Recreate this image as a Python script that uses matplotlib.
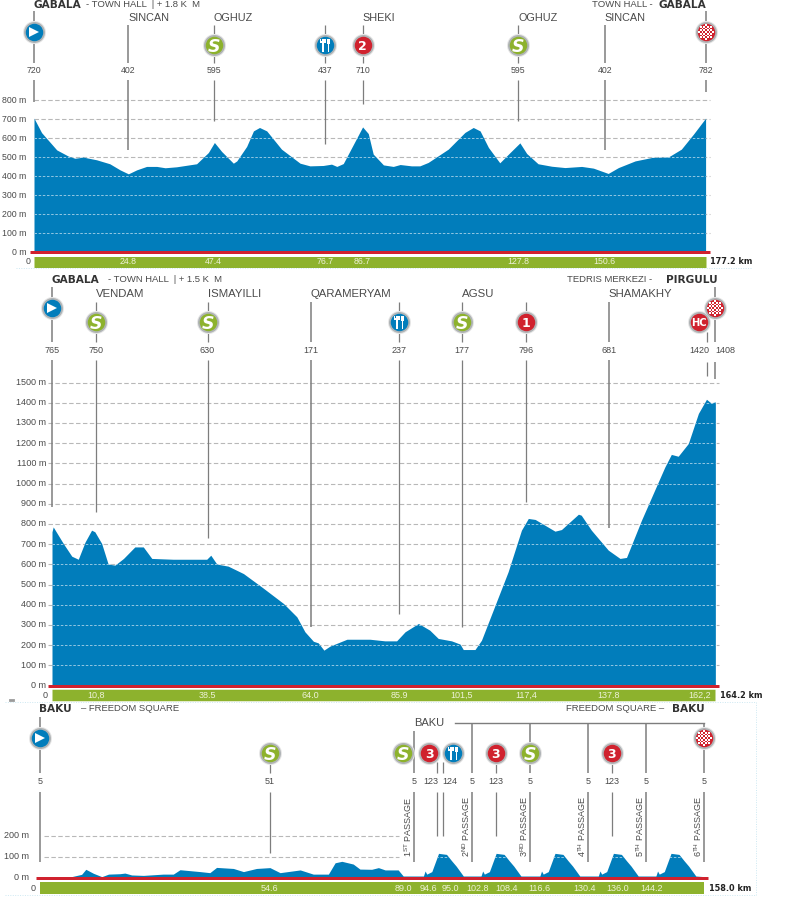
import numpy as np
import matplotlib
matplotlib.use('Agg')
import matplotlib.pyplot as plt
from matplotlib.path import Path
from matplotlib.lines import Line2D
from matplotlib.transforms import Affine2D, blended_transform_factory

plt.rcParams['font.family'] = ['Liberation Sans', 'DejaVu Sans']
plt.rcParams['mathtext.fontset'] = 'custom'
plt.rcParams['mathtext.rm'] = 'Liberation Sans'
plt.rcParams['mathtext.default'] = 'rm'

# stage 1 profile
km_1 = [0, 2.0, 6.0, 9.1, 10.8, 13, 16.5, 20, 22.7, 24.9, 27.1, 29.7, 32.4, 34.6, 37.6, 42.9, 46, 47.6, 49.5,
        52.6, 53.5, 56.1, 57.9, 59.5, 61.4, 65.3, 70.2, 72.8, 76.3, 78.5, 79.9, 81.6, 84.3, 86.7, 88.2, 89.5,
        92.2, 94.8, 96.6, 99.6, 101.8, 104, 109.3, 113.7, 115.9, 117.7, 119.9, 122.9, 125.6, 128.2, 130, 133,
        136.6, 140.1, 144.5, 147.6, 151.5, 154.2, 158.6, 163, 167.4, 170.8, 174, 177.2]
alt_1 = [707, 631, 540, 507, 496, 502, 488, 467, 435, 414, 435, 453, 453, 446, 451, 467, 526, 579, 532,
         470, 482, 558, 640, 658, 640, 544, 470, 456, 458, 465, 453, 468, 570, 661, 626, 518,
         461, 453, 463, 456, 456, 474, 544, 632, 658, 640, 553, 472, 526, 577, 521, 467,
         454, 447, 453, 444, 416, 447, 482, 500, 503, 544, 623, 707]
point_km_1 = [0, 24.8, 47.4, 76.7, 86.7, 127.8, 150.6, 177.2]
point_alt_1 = ['720', '402', '595', '437', '710', '595', '402', '782']
point_name_1 = ['', 'SINCAN', 'OGHUZ', '', 'SHEKI', 'OGHUZ', 'SINCAN', '']
point_icon_1 = ['start', '', 'S', 'food', '2', 'S', '', 'finish']
ticks_1 = ['24.8', '47.4', '76.7', '86.7', '127.8', '150.6']
tick_km_1 = [24.8, 47.4, 76.7, 86.7, 127.8, 150.6]
grid_1 = [100, 200, 300, 400, 500, 600, 700, 800]

# stage 2 profile
km_2 = [0, 0.3, 2.8, 4.9, 6.5, 8.2, 9.8, 10.6, 12.3, 13.9, 15.6, 17.7, 20.5, 22.6, 24.7, 30, 38.3, 39.3, 40.8,
        43.6, 47.4, 51.9, 57.3, 60.6, 62.6, 64.7, 65.9, 67.3, 68.8, 73, 78.7, 82.4, 85.3, 87.4, 90.7, 93.5,
        95.6, 98.9, 101, 101.8, 104.7, 106.3, 112.9, 116.2, 117.9, 119.6, 124.5, 126.1, 130.3, 131, 133.5,
        137.7, 140.6, 142.2, 145.9, 151.7, 153.3, 155, 157.5, 160, 162, 163.1, 164.2]
alt_2 = [761, 785, 703, 640, 625, 711, 769, 761, 703, 601, 596, 629, 686, 686, 629, 625, 625, 645, 601,
         591, 554, 488, 406, 340, 266, 219, 211, 175, 195, 229, 229, 221, 221, 266, 307, 274,
         233, 221, 205, 178, 178, 224, 563, 769, 827, 822, 764, 772, 848, 843, 769,
         670, 629, 634, 818, 1082, 1144, 1135, 1198, 1347, 1417, 1399, 1404]
point_km_2 = [0, 10.8, 38.5, 64.0, 85.9, 101.5, 117.4, 137.8, 162.1, 164.2]
point_alt_2 = ['765', '750', '630', '171', '237', '177', '796', '681', '1420', '1408']
point_name_2 = ['', 'VENDAM', 'ISMAYILLI', 'QARAMERYAM', '', 'AGSU', '', 'SHAMAKHY', '', '']
point_icon_2 = ['start', 'S', 'S', '', 'food', 'S', '1', '', 'HC', 'finish']
ticks_2 = ['10,8', '38.5', '64.0', '85.9', '101,5', '117,4', '137.8', '162,2']
tick_km_2 = [10.8, 38.5, 64.0, 85.9, 101.5, 117.4, 137.8, 160.4]
grid_2 = [100, 200, 300, 400, 500, 600, 700, 800, 900, 1000, 1100, 1200, 1300, 1400, 1500]

# stage 3 profile, six laps at the end
km_3 = [0, 7.5, 9.9, 10.9, 12.7, 14.7, 16.3, 19, 20.2, 21.8, 24.6, 29.3, 31.7, 33.3, 38.1, 40.4, 42, 46, 48.4,
        51.5, 54.7, 57.1, 61.9, 65, 68.6, 70.2, 71.8, 74.5, 76.1, 78.9, 80.5, 82.1, 85.2, 86.4,
        91.2, 91.6, 92.0, 93.2, 94.8, 96.7, 97.9, 99.0, 100.7,
        104.9, 105.3, 105.7, 106.9, 108.5, 110.4, 111.6, 112.7, 114.4,
        118.9, 119.3, 119.7, 120.9, 122.5, 124.4, 125.6, 126.7, 128.4,
        132.8, 133.2, 133.6, 134.8, 136.4, 138.3, 139.5, 140.6, 142.3,
        146.5, 146.9, 147.3, 148.5, 150.1, 152.0, 153.2, 154.3, 156.0, 158.0]
alt_3 = [2, 5, 16, 40, 21, 5, 17, 19, 22, 13, 11, 17, 17, 38, 29, 24, 49, 44, 29,
         44, 48, 24, 37, 17, 17, 71, 78, 65, 41, 40, 48, 37, 37, 8,
         8, 32, 17, 29, 116, 111, 81, 55, 8,
         8, 32, 17, 29, 116, 111, 81, 55, 8,
         8, 32, 17, 29, 116, 111, 81, 55, 8,
         8, 32, 17, 29, 116, 111, 81, 55, 8,
         8, 32, 17, 29, 116, 111, 81, 55, 8, 5]
point_km_3 = [0, 54.6, 89.0, 94.4, 95.8, 102.8, 108.4, 116.6, 130.4, 136.0, 144.2, 158.0]
point_alt_3 = ['5', '51', '5', '123', '124', '5', '123', '5', '5', '123', '5', '5']
point_icon_3 = ['start', 'S', 'S', '3', 'food', '', '3', 'S', '', '3', '', 'finish']
ticks_3 = ['54.6', '89.0', '94.6', '95.0', '102.8', '108.4', '116.6', '130.4', '136.0', '144.2']
tick_km_3 = [54.6, 86.5, 92.4, 97.7, 104.0, 110.9, 118.8, 129.5, 137.3, 145.4]
passages = ['1$^{ST}$ PASSAGE', '2$^{ND}$ PASSAGE', '3$^{RD}$ PASSAGE', '4$^{TH}$ PASSAGE', '5$^{TH}$ PASSAGE',
            '6$^{TH}$ PASSAGE']
passage_km = [89.0, 102.8, 116.6, 130.4, 144.2, 158.0]
grid_3 = [100, 200]

BLUE = '#017DBB'
RED = '#D0222E'
GREEN = '#8DB22D'
GREY = '#7d7d7d'
TEXT = '#4a4a4a'
W, H = 785, 897
PT = 0.72  # one pixel in points at dpi 100

fig = plt.figure(figsize=(W / 100, H / 100), dpi=100, facecolor='white')
px = Affine2D().scale(1, -1).translate(0, H)


def make_axes(top, bot, x0, km_scale, y0, m_scale):
    # one band of the picture, km and metres mapped so the pixels line up
    ax = fig.add_axes([0, 1 - bot / H, 1, (bot - top) / H])
    ax.set_xlim(-x0 / km_scale, (W - x0) / km_scale)
    ax.set_ylim((y0 - bot) / m_scale, (y0 - top) / m_scale)
    ax.axis('off')
    ax.patch.set_alpha(0)
    return ax, blended_transform_factory(ax.transData, px)


def fork_knife():
    verts, codes = [], []
    def box(x1, y1, x2, y2):
        verts.extend([(x1, y1), (x2, y1), (x2, y2), (x1, y2), (x1, y1)])
        codes.extend([Path.MOVETO, Path.LINETO, Path.LINETO, Path.LINETO, Path.CLOSEPOLY])
    box(-0.48, -1, -0.22, 1)
    box(-0.8, 0.25, 0.1, 0.55)
    box(-0.8, 0.25, -0.62, 1)
    box(-0.08, 0.25, 0.1, 1)
    box(0.42, -1, 0.68, 1)
    box(0.3, 0.1, 0.8, 1)
    return Path(verts, codes)


def checker():
    verts, codes = [], []
    for i in range(-4, 5):
        for j in range(-4, 5):
            if (i + j) % 2 == 0 and i * i + j * j < 19:
                x, y = i * 0.22, j * 0.22
                s = 0.11
                verts.extend([(x - s, y - s), (x + s, y - s), (x + s, y + s), (x - s, y + s), (x - s, y - s)])
                codes.extend([Path.MOVETO, Path.LINETO, Path.LINETO, Path.LINETO, Path.CLOSEPOLY])
    return Path(verts, codes)


def draw_icon(ax, tr, x, y, kind):
    colors = {'start': BLUE, 'food': BLUE, 'S': GREEN, 'finish': RED}
    c = colors.get(kind, RED)
    ax.plot([x], [y], 'o', transform=tr, ms=23 * PT, color='#e6e6e6', mew=0, zorder=5, clip_on=False)
    ax.plot([x], [y], 'o', transform=tr, ms=21 * PT, color='#b0b4b6', mew=0, zorder=6, clip_on=False)
    ax.plot([x], [y], 'o', transform=tr, ms=17.5 * PT, color=c, mew=0, zorder=7, clip_on=False)
    if kind == 'start':
        ax.plot([x], [y], '>', transform=tr, ms=10 * PT, color='white', mew=0, zorder=8)
    elif kind == 'food':
        ax.plot([x], [y], marker=fork_knife(), transform=tr, ms=13 * PT, color='white', mew=0, zorder=8)
    elif kind == 'finish':
        ax.plot([x], [y], marker=checker(), transform=tr, ms=15.5 * PT, color='white', mew=0, zorder=8)
    elif kind == 'S':
        ax.text(x, y, 'S', transform=tr, ha='center', va='center_baseline', color='white', fontsize=12.5,
                family='DejaVu Sans', weight='bold', style='oblique', zorder=8)
    else:
        ax.text(x, y, kind, transform=tr, ha='center', va='center_baseline', color='white',
                fontsize=7.2 if len(kind) > 1 else 9, family='DejaVu Sans', weight='bold', zorder=8)


def draw_base(ax, tr, km, alt, total, grid, x_end, grid_x, red_x, bar_top, bar_h, label_fs, total_label):
    fill = ax.fill_between(km, 0, alt, color=BLUE, lw=0, zorder=2)
    for g in grid:
        ax.plot(grid_x, [g, g], color='#b8b8b8', lw=0.8, dashes=(4, 2.2), zorder=1)
        # the dashes turn white over the blue
        line, = ax.plot([0, total], [g, g], color='#a9d3e9', lw=0.6, dashes=(3, 2), zorder=3)
        line.set_clip_path(fill.get_paths()[0], ax.transData)
        ax.text(x_end, g, '%d m' % g, ha='right', va='center', color=TEXT, fontsize=label_fs)
    ax.text(x_end, 0, '0 m', ha='right', va='center', color=TEXT, fontsize=label_fs)
    ax.plot(red_x, [0, 0], color=RED, lw=3 * PT, solid_capstyle='butt', zorder=4)
    ax.plot([0, total], [bar_top + bar_h / 2] * 2, transform=tr, color=GREEN, lw=bar_h * PT,
            solid_capstyle='butt', zorder=2)
    ax.text(-1.0, bar_top + bar_h / 2, '0', transform=tr, ha='right', va='center', color=TEXT, fontsize=label_fs)
    ax.text(total + 1.2, bar_top + bar_h / 2, total_label, transform=tr, ha='left', va='center', color='#222222',
            fontsize=5.9, family='DejaVu Sans', weight='bold')


def km_ticks(ax, tr, kms, labels, y, fs):
    for k, t in zip(kms, labels):
        ax.text(k, y, t, transform=tr, ha='center', va='center', color='#eef2d8', fontsize=fs, zorder=5)


def vline(ax, tr, x, y1, y2, lw=0.9, color=GREY):
    ax.plot([x, x], [y1, y2], transform=tr, color=color, lw=lw, solid_capstyle='butt', zorder=1.5)


# stage 1
ax1, tr1 = make_axes(0, 269, 34, 3.79, 252.5, 0.19)
draw_base(ax1, tr1, km_1, alt_1, 177.2, grid_1, -2.1, [0, 178.3], [-1, 178.3], 256, 11, 6.3, '177.2 km')
km_ticks(ax1, tr1, tick_km_1, ticks_1, 261.5, 6.3)
bottoms_1 = [102, 150, 121, 144, 104, 121, 150, 92]
for k, v, n, ic, b in zip(point_km_1, point_alt_1, point_name_1, point_icon_1, bottoms_1):
    edge = ic in ('start', 'finish')
    vline(ax1, tr1, k, 11 if edge else 25, 63, lw=1.1 if edge or ic == '' else 0.9)
    vline(ax1, tr1, k, 80, b, lw=1.1 if edge or ic == '' else 0.9)
    ax1.text(k, 70.5, v, transform=tr1, ha='center', va='center', color=TEXT, fontsize=6.3)
    if n:
        ax1.text(k, 18, n, transform=tr1, ha='left', va='center', color=TEXT, fontsize=7.8)
    if ic:
        draw_icon(ax1, tr1, k, 32 if edge else 44.5, ic)
ax1.text(0, 4.5, 'GABALA', transform=tr1, ha='left', va='center', color='#333333', fontsize=7.6,
         family='DejaVu Sans', weight='bold')
ax1.text(13.7, 4.5, '- TOWN HALL  | + 1.8 K  M', transform=tr1, ha='left', va='center', color=TEXT, fontsize=6.8)
ax1.text(177.4, 4.5, 'GABALA', transform=tr1, ha='right', va='center', color='#333333', fontsize=7.6,
         family='DejaVu Sans', weight='bold')
ax1.text(163.2, 4.5, 'TOWN HALL -', transform=tr1, ha='right', va='center', color=TEXT, fontsize=6.8)

# stage 2
ax2, tr2 = make_axes(269, 702, 52, 4.04, 685.5, 0.202)
draw_base(ax2, tr2, km_2, alt_2, 164.2, grid_2, -1.5, [-1, 165], [-1, 165], 689.5, 11.5, 6.5, '164.2 km')
km_ticks(ax2, tr2, tick_km_2, ticks_2, 695.3, 6.5)
bottoms_2 = [507, 512, 538, 627, 614, 627, 502, 528, 376, 379]
for k, v, n, ic, b in zip(point_km_2, point_alt_2, point_name_2, point_icon_2, bottoms_2):
    edge = ic in ('start', 'finish')
    if ic != 'HC':
        vline(ax2, tr2, k, 287 if edge else 302, 342, lw=1.1 if edge or ic == '' else 0.9)
    vline(ax2, tr2, k, 360 if ic not in ('HC', 'finish') else 362, b, lw=1.1 if edge or ic == '' else 0.9)
    if ic == 'HC':
        vline(ax2, tr2, k, 332, 342)
    if ic == 'HC':
        ax2.text(k - 1.8, 350, v, transform=tr2, ha='center', va='center', color=TEXT, fontsize=6.5)
    elif ic == 'finish':
        ax2.text(k + 2.5, 350, v, transform=tr2, ha='center', va='center', color=TEXT, fontsize=6.5)
    else:
        ax2.text(k, 350, v, transform=tr2, ha='center', va='center', color=TEXT, fontsize=6.5)
    if n:
        ax2.text(k, 293.7, n, transform=tr2, ha='left', va='center', color=TEXT, fontsize=8.2)
    if ic == 'HC':
        draw_icon(ax2, tr2, k - 1.9, 322.3, ic)
    elif ic:
        draw_icon(ax2, tr2, k, 308.3 if edge else 322.3, ic)
ax2.text(0, 279.5, 'GABALA', transform=tr2, ha='left', va='center', color='#333333', fontsize=7.6,
         family='DejaVu Sans', weight='bold')
ax2.text(13.9, 279.7, '- TOWN HALL  | + 1.5 K  M', transform=tr2, ha='left', va='center', color=TEXT, fontsize=6.8)
ax2.text(164.7, 279.5, 'PIRGULU', transform=tr2, ha='right', va='center', color='#333333', fontsize=7.6,
         family='DejaVu Sans', weight='bold')
ax2.text(148.6, 279.7, 'TEDRIS MERKEZI -', transform=tr2, ha='right', va='center', color=TEXT, fontsize=6.8)

# stage 3
ax3, tr3 = make_axes(702, 897, 40, 4.204, 877.7, 0.21)
draw_base(ax3, tr3, km_3, alt_3, 158.0, grid_3, -2.6, [1, 85.5], [-1.0, 159], 882, 12, 6.5, '158.0 km')
km_ticks(ax3, tr3, tick_km_3, ticks_3, 888, 6.5)
# icons and numbers beside the line when they are too close together
icon_shift = {89.0: -2.7, 94.4: -1.8, 95.8: 2.4}
alt_shift = {94.4: -1.4, 95.8: 1.8}
for k, v, ic in zip(point_km_3, point_alt_3, point_icon_3):
    edge = ic in ('start', 'finish')
    if k in passage_km[1:] or k == 89.0:
        vline(ax3, tr3, k, 731 if k == 89.0 else 722.7, 773, lw=1.1)
        vline(ax3, tr3, k, 791.7, 861.7, lw=1.1)
    elif k == 0:
        vline(ax3, tr3, k, 716.7, 773, lw=1.1)
        vline(ax3, tr3, k, 791.7, 861.7, lw=1.1)
    else:
        vline(ax3, tr3, k, 761.7, 773)
        vline(ax3, tr3, k, 791.7, 853 if k == 54.6 else 836)
    ax3.text(k + alt_shift.get(k, 0), 781.7, v, transform=tr3, ha='center', va='center', color=TEXT, fontsize=6.5)
    if ic:
        draw_icon(ax3, tr3, k + icon_shift.get(k, 0), 738 if edge else 753, ic)
for k, p in zip(passage_km, passages):
    ax3.text(k - 1.5, 857, p, transform=tr3, rotation=90, ha='center', va='bottom', color=TEXT, fontsize=6.5)
ax3.text(89.0, 723, 'BAKU', transform=tr3, ha='left', va='center', color=TEXT, fontsize=8)
ax3.plot([98.8, 158.0], [722.7, 722.7], transform=tr3, color=GREY, lw=1, zorder=1.5)
ax3.text(-0.2, 708.7, 'BAKU', transform=tr3, ha='left', va='center', color='#333333', fontsize=7.6,
         family='DejaVu Sans', weight='bold')
ax3.text(9.7, 708.7, '– FREEDOM SQUARE', transform=tr3, ha='left', va='center', color=TEXT, fontsize=6.8)
ax3.text(158.2, 708.7, 'BAKU', transform=tr3, ha='right', va='center', color='#333333', fontsize=7.6,
         family='DejaVu Sans', weight='bold')
ax3.text(148.5, 708.7, 'FREEDOM SQUARE –', transform=tr3, ha='right', va='center', color=TEXT, fontsize=6.8)

# faint dotted frame lines left in the original image
for x1, x2, y in [(16, 752, 268), (5, 755, 702), (5, 755, 895)]:
    fig.add_artist(Line2D([x1, x2], [y, y], transform=px, color='#cde8f2', lw=0.7, dashes=(1, 1.5)))
fig.add_artist(Line2D([756, 756], [702, 895], transform=px, color='#cde8f2', lw=0.7, dashes=(1, 1.5)))
# small grey speck bottom left of stage 2
fig.add_artist(Line2D([10, 13], [699.5, 699.5], transform=px, color='#9a9a9a', lw=2))

fig.savefig('out.png', dpi=100)
